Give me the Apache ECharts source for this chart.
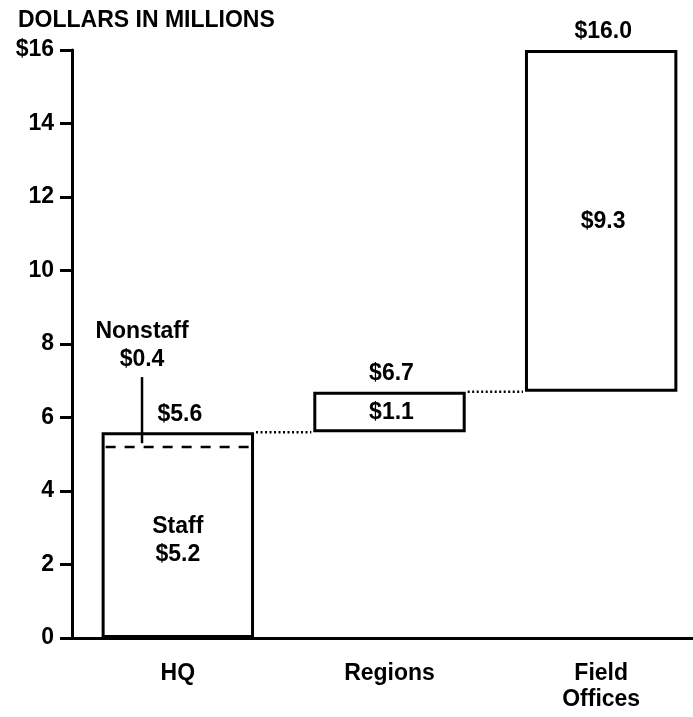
<!DOCTYPE html>
<html>
<head>
<meta charset="utf-8">
<script src="https://cdn.jsdelivr.net/npm/echarts@6/dist/echarts.min.js"></script>
<style>
  html, body { margin: 0; padding: 0; background: #fff; overflow: hidden; width: 693px; height: 717px; }
  #chart { width: 707px; height: 717px; }
</style>
</head>
<body>
<div id="chart"></div>
<script>
// ---- data ----
const categories = ['HQ', 'Regions', 'Field\nOffices'];
const bases = [0, 5.6, 6.7];          // where each box starts
const increments = [5.6, 1.1, 9.3];   // height of each box
const totals = [5.6, 6.7, 16.0];      // running totals (box tops)
const hqStaff = 5.2;
const hqNonstaff = 0.4;
const yTickValues = [0, 2, 4, 6, 8, 10, 12, 14, 16];
const yTickLabels = ['0', '2', '4', '6', '8', '10', '12', '14', '$16'];
const titleText = 'DOLLARS IN MILLIONS';

// ---- styles ----
const FONT = '"Liberation Sans", Arial, Helvetica, sans-serif';
const FS = 23;
const BAR_RATIO = 0.72;
const INK = '#000';

const chart = echarts.init(document.getElementById('chart'), null, { renderer: 'canvas' });

function money(v) { return '$' + v.toFixed(1); }

const option = {
  animation: false,
  backgroundColor: '#fff',
  title: {
    text: titleText,
    left: 13,
    top: 4,
    textStyle: { fontFamily: FONT, fontSize: FS, fontWeight: 'bold', color: INK }
  },
  grid: { left: 72, right: 0, top: 50, bottom: 79, containLabel: false },
  xAxis: {
    type: 'category',
    data: categories,
    axisLine: { show: true, lineStyle: { color: INK, width: 3 } },
    axisTick: { show: false },
    axisLabel: {
      margin: 23,
      fontFamily: FONT, fontSize: FS, fontWeight: 'bold', color: INK,
      lineHeight: 26
    },
    splitLine: { show: false }
  },
  yAxis: {
    type: 'value',
    min: 0, max: 16, interval: 2,
    axisLine: { show: true, lineStyle: { color: INK, width: 3 } },
    axisTick: { show: true, length: 12, lineStyle: { color: INK, width: 3 } },
    axisLabel: {
      margin: 18,
      fontFamily: FONT, fontSize: FS, fontWeight: 'bold', color: INK,
      formatter: function (v) { return yTickLabels[yTickValues.indexOf(v)]; }
    },
    splitLine: { show: false }
  },
  series: [
    {
      name: 'base', type: 'bar', stack: 'w', barWidth: (BAR_RATIO * 100) + '%',
      data: bases,
      itemStyle: { color: 'transparent', borderWidth: 0 },
      silent: true
    },
    {
      name: 'box', type: 'bar', stack: 'w', barWidth: (BAR_RATIO * 100) + '%',
      data: increments,
      itemStyle: { color: '#fff', borderColor: INK, borderWidth: 3 }
    },
    {
      name: 'annot', type: 'custom', coordinateSystem: 'cartesian2d', z: 10,
      data: categories.map(function (c, i) { return [i, totals[i]]; }),
      encode: { x: 0, y: 1 },
      renderItem: function (params, api) {
        const i = api.value(0);
        const band = api.size([1, 0])[0];
        const half = band * BAR_RATIO / 2;
        const cx = api.coord([i, 0])[0];
        const children = [];
        const txt = function (text, x, y, va) {
          return {
            type: 'text',
            style: {
              text: text, x: x, y: y, align: 'center', verticalAlign: va,
              font: 'bold ' + FS + 'px ' + FONT, fill: INK,
              lineHeight: 28
            }
          };
        };
        // total above box
        const topY = api.coord([i, totals[i]])[1];
        children.push(txt(money(totals[i]), cx + 2, topY - 18, 'middle'));
        if (i === 0) {
          // staff label in middle of staff segment
          const midY = api.coord([i, hqStaff / 2])[1];
          children.push(txt('Staff\n' + money(hqStaff), cx, midY - 2, 'middle'));
          // dashed divider between staff and nonstaff
          const dy = api.coord([i, hqStaff])[1];
          children.push({
            type: 'line',
            shape: { x1: cx - half + 4, y1: dy, x2: cx + half - 2, y2: dy },
            style: { stroke: INK, lineWidth: 2.5, lineDash: [10, 9] }
          });
          // leader line and nonstaff label
          const lx = cx - half * 0.47;
          const ly1 = api.coord([i, totals[i] + 1.5])[1];
          const ly2 = api.coord([i, hqStaff + 0.1])[1];
          children.push({
            type: 'line',
            shape: { x1: lx, y1: ly1, x2: lx, y2: ly2 },
            style: { stroke: INK, lineWidth: 2.5 }
          });
          children.push(txt('Nonstaff\n' + money(hqNonstaff), lx, ly1 - 3, 'bottom'));
        } else {
          // increment label in middle of box
          const midY = api.coord([i, bases[i] + increments[i] / 2])[1];
          children.push(txt(money(increments[i]), cx + 2, midY + 1, 'middle'));
          // dotted connector from previous box
          const prevCx = api.coord([i - 1, 0])[0];
          const cy = api.coord([i, bases[i]])[1];
          children.push({
            type: 'line',
            shape: { x1: prevCx + half + 2, y1: cy, x2: cx - half - 2, y2: cy },
            style: { stroke: INK, lineWidth: 2.5, lineDash: [2, 2.5] }
          });
        }
        return { type: 'group', children: children };
      }
    }
  ]
};

chart.setOption(option);
</script>
</body>
</html>
